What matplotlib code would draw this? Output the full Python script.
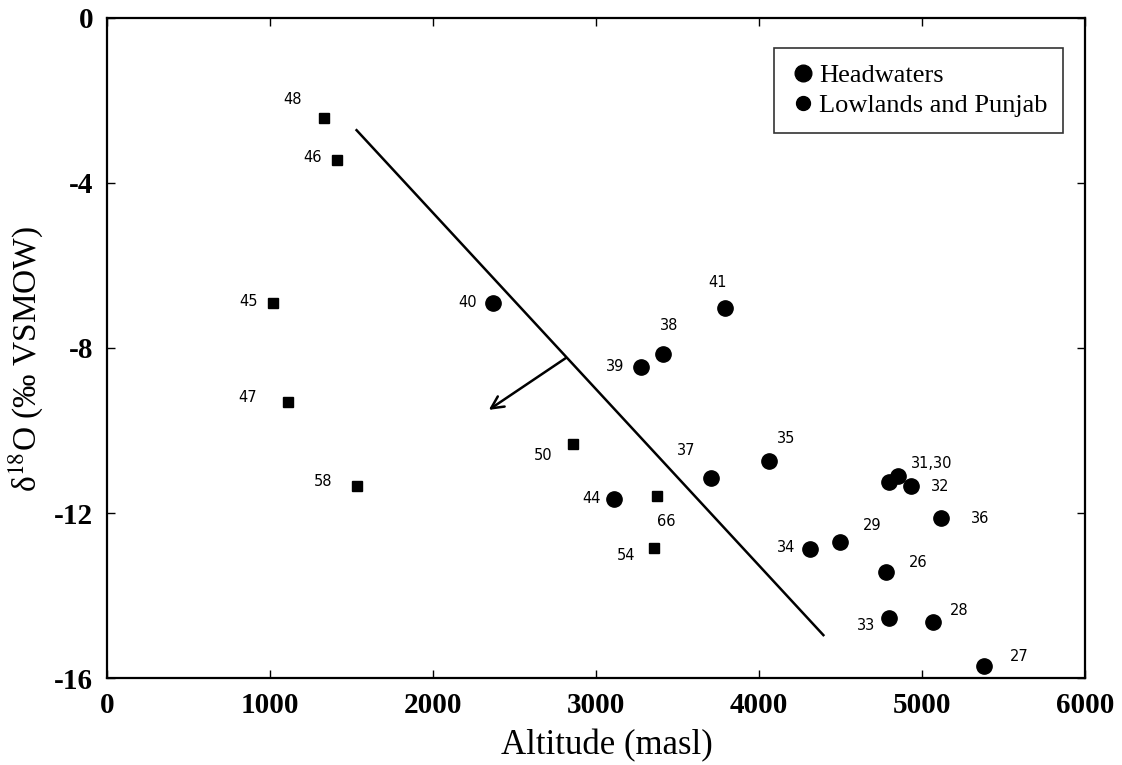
import matplotlib
matplotlib.use("Agg")
import matplotlib.pyplot as plt
from matplotlib.lines import Line2D

plt.rcParams['font.family'] = ['Liberation Serif', 'DejaVu Serif']
plt.rcParams['mathtext.fontset'] = 'stix'
plt.rcParams['axes.unicode_minus'] = False

# Headwaters samples (circles)
head_ids = ['40', '41', '38', '39', '35', '37', '44', '34', '29',
            '31', '30', '32', '36', '26', '33', '28', '27']
head_alt = [2367, 3793, 3412, 3277, 4064, 3707, 3111, 4315, 4494,
            4795, 4850, 4930, 5114, 4777, 4795, 5065, 5379]
head_d18o = [-6.91, -7.03, -8.15, -8.46, -10.74, -11.15, -11.66, -12.87, -12.70,
             -11.25, -11.10, -11.35, -12.12, -13.43, -14.55, -14.64, -15.71]

# Lowlands and Punjab samples (squares)
low_ids = ['48', '46', '45', '47', '58', '50', '66', '54']
low_alt = [1334, 1408, 1020, 1113, 1531, 2859, 3375, 3356]
low_d18o = [-2.42, -3.44, -6.91, -9.31, -11.35, -10.33, -11.59, -12.85]

# hand drawn trend line and arrow
trend_alt = [1531, 4395]
trend_d18o = [-2.72, -14.96]
arrow_from = (2816, -8.24)
arrow_to = (2342, -9.50)

# label offsets in pixels (dx, dy)
head_labels = {
    '40': (-25, 1), '41': (-8, 25), '38': (6, 29), '39': (-26, 0),
    '35': (17, 23), '37': (-25, 27), '44': (-23, 0), '34': (-24, 1),
    '29': (33, 16), '30': (34, 12), '32': (30, 0), '36': (40, -1),
    '26': (33, 10), '33': (-23, -7), '28': (27, 11), '27': (35, 10),
}
low_labels = {
    '48': (-32, 18), '46': (-24, 2), '45': (-25, 2), '47': (-41, 5),
    '58': (-34, 5), '50': (-30, -11), '66': (9, -25), '54': (-28, -7),
}

fig = plt.figure(figsize=(11.22, 7.65), dpi=100)
ax = fig.add_axes([0.0954, 0.1137, 0.8716, 0.8628])

ax.plot(head_alt, head_d18o, 'o', color='black', markersize=11, linestyle='none')
ax.plot(low_alt, low_d18o, 's', color='black', markersize=7.5, linestyle='none')
ax.plot(trend_alt, trend_d18o, color='black', linewidth=1.8)
ax.annotate('', xy=arrow_to, xytext=arrow_from,
            arrowprops=dict(arrowstyle='->', color='black', lw=1.8,
                            mutation_scale=22, shrinkA=0, shrinkB=0))

lab_font = dict(family='DejaVu Sans', fontsize=10.5, ha='center', va='center')
for i, name in enumerate(head_ids):
    if name == '31':
        continue
    dx, dy = head_labels[name]
    txt = '31,30' if name == '30' else name
    ax.annotate(txt, (head_alt[i], head_d18o[i]), xytext=(dx * 0.72, dy * 0.72),
                textcoords='offset points', **lab_font)
for i, name in enumerate(low_ids):
    dx, dy = low_labels[name]
    ax.annotate(name, (low_alt[i], low_d18o[i]), xytext=(dx * 0.72, dy * 0.72),
                textcoords='offset points', **lab_font)

ax.set_xlim(0, 6000)
ax.set_ylim(-16, 0)
ax.set_xticks([0, 1000, 2000, 3000, 4000, 5000, 6000])
ax.set_yticks([0, -4, -8, -12, -16])
ax.tick_params(direction='in', length=6, width=1, top=True, right=True,
               labelsize=21, pad=10)
for lbl in ax.get_xticklabels() + ax.get_yticklabels():
    lbl.set_fontweight('bold')
for sp in ax.spines.values():
    sp.set_linewidth(1.6)

ax.set_xlabel('Altitude (masl)', fontsize=25)
ax.xaxis.set_label_coords(0.511, -0.077)
ax.set_ylabel('δ$^{18}$O (‰ VSMOW)', fontsize=24)
ax.yaxis.set_label_coords(-0.063, 0.483)

handles = [
    Line2D([], [], marker='o', color='black', linestyle='none', markersize=12),
    Line2D([], [], marker='o', color='black', linestyle='none', markersize=10),
]
leg = ax.legend(handles, ['Headwaters', 'Lowlands and Punjab'], loc='upper right',
                bbox_to_anchor=(0.978, 0.955), fontsize=19, frameon=True,
                fancybox=False, edgecolor='black', handletextpad=0.1,
                handlelength=1.0, borderpad=0.6, labelspacing=0.25,
                borderaxespad=0)
leg.get_frame().set_linewidth(1.2)

fig.savefig('out.png', dpi=100)
